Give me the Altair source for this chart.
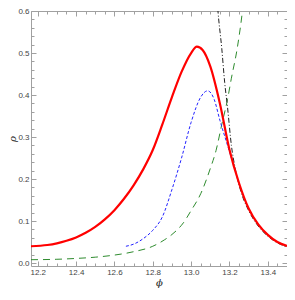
import altair as alt
import pandas as pd

# ---- data ----
red_x = [12.165, 12.25, 12.3, 12.35, 12.4, 12.45, 12.5, 12.55, 12.6, 12.65, 12.7, 12.75, 12.8,
         12.85, 12.9, 12.95, 13.0, 13.03, 13.06, 13.1, 13.15, 13.2, 13.25, 13.3, 13.35, 13.4,
         13.45, 13.5]
red_y = [0.040, 0.043, 0.047, 0.053, 0.061, 0.072, 0.086, 0.104, 0.126, 0.153, 0.185, 0.223, 0.269,
         0.330, 0.395, 0.455, 0.500, 0.515, 0.507, 0.468, 0.380, 0.270, 0.190, 0.130, 0.092, 0.067,
         0.050, 0.041]

blue_x = [12.66, 12.7, 12.75, 12.8, 12.85, 12.9, 12.95, 13.0, 13.05, 13.086, 13.12, 13.15, 13.19, 13.21]
blue_y = [0.040, 0.045, 0.058, 0.078, 0.110, 0.175, 0.250, 0.335, 0.395, 0.410, 0.390, 0.340, 0.280, 0.250]

green_x = [12.165, 12.3, 12.4, 12.5, 12.6, 12.7, 12.8, 12.86, 12.9, 12.96, 13.0, 13.05, 13.1, 13.13,
           13.16, 13.19, 13.21, 13.24, 13.265, 13.275]
green_y = [0.008, 0.009, 0.011, 0.014, 0.019, 0.027, 0.040, 0.055, 0.068, 0.096, 0.125, 0.165, 0.225,
           0.268, 0.330, 0.390, 0.440, 0.510, 0.590, 0.630]

black_x = [13.135, 13.14, 13.16, 13.175, 13.19, 13.21, 13.23, 13.26, 13.3, 13.35, 13.4, 13.45, 13.5]
black_y = [0.63, 0.60, 0.51, 0.43, 0.37, 0.28, 0.225, 0.170, 0.125, 0.088, 0.064, 0.048, 0.039]

x_major = [12.2, 12.4, 12.6, 12.8, 13.0, 13.2, 13.4]
x_minor = [round(12.2 + 0.05 * i, 2) for i in range(-1, 27)]
y_major = [0.0, 0.1, 0.2, 0.3, 0.4, 0.5, 0.6]
y_minor = [round(0.02 * i, 2) for i in range(0, 31)]

XD = [12.165, 13.5]
YD = [-0.007, 0.6]

FRAME = "#a0a0a0"
LABEL = "#444444"
FONT = "Liberation Sans"


def axis(orient, vals, size, labels, **kw):
    return alt.Axis(orient=orient, values=vals, tickSize=size, offset=-size, labels=labels,
                    domain=False, grid=False, tickColor=FRAME, tickWidth=1,
                    labelFont=FONT, labelFontSize=8, labelColor=LABEL, format=".1f", **kw)


def line(xs, ys, color, width, dash, xax, yax, xtitle=None, ytitle=None):
    df = pd.DataFrame({"x": xs, "y": ys})
    kw = {"strokeDash": dash} if dash else {}
    return alt.Chart(df).mark_line(color=color, strokeWidth=width, clip=True,
                                   interpolate="monotone", **kw).encode(
        x=alt.X("x:Q", scale=alt.Scale(domain=XD, nice=False, zero=False), axis=xax, title=xtitle),
        y=alt.Y("y:Q", scale=alt.Scale(domain=YD, nice=False, zero=False), axis=yax, title=ytitle),
        order=alt.Order("x:Q"),
    )


title_kw = dict(titleFont="DejaVu Serif", titleFontSize=10, titleFontStyle="italic",
                titleFontWeight="normal", titleColor="#222222")

red = line(red_x, red_y, "#ff0000", 2.2, None,
           axis("bottom", x_major, 5, True, labelPadding=2, titlePadding=1, **title_kw),
           axis("left", y_major, 5, True, labelPadding=2, titlePadding=0, **title_kw),
           xtitle="ϕ", ytitle="ρ")
blue = line(blue_x, blue_y, "#2222ff", 1.0, [3, 2],
            axis("bottom", x_minor, 3, False), axis("left", y_minor, 3, False))
green = line(green_x, green_y, "#2e8b2e", 1.0, [7, 5],
             axis("top", x_major, 5, False), axis("right", y_major, 5, False))
black = line(black_x, black_y, "#222222", 1.0, [5, 2, 1, 2],
             axis("top", x_minor, 3, False), axis("right", y_minor, 3, False))

chart = alt.layer(green, black, blue, red).resolve_scale(
    x="independent", y="independent"
).properties(
    width=256, height=255, autosize="none",
    padding={"left": 23, "top": 3, "right": 0, "bottom": 26},
).configure_view(stroke=FRAME, strokeWidth=1)

chart.save("out.html", embed_options={"renderer": "svg", "actions": False})
